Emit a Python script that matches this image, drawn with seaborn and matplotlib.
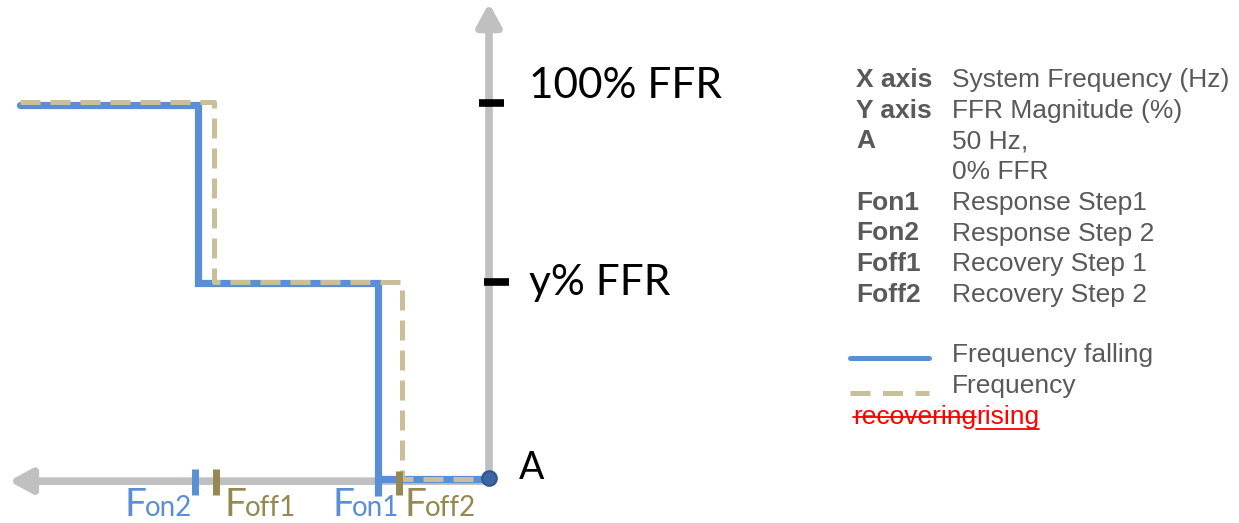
import numpy as np
import pandas as pd
import seaborn as sns
import matplotlib.pyplot as plt
from matplotlib.lines import Line2D

# Step curves (x = frequency offset from A, y = FFR %)
fall_x = [-469, -291, -291, -111, -111, 0]
fall_y = [99.4, 99.4, 52.2, 52.2, 0.3, 0.3]
rise_x = [-469, -275, -275, -87, -87, 0]
rise_y = [100.2, 100.2, 52.5, 52.5, 0.3, 0.3]

# marks on the frequency axis
freq_marks = ["Fon2", "Foff1", "Fon1", "Foff2"]
freq_pos = [-294, -273, -114, -90]
label_off = [-70, 9, -43, 6]

# marks on the FFR axis
ffr_levels = [100, 52.5]
ffr_labels = ["100% FFR", "y% FFR"]
ffr_label_shift = [4.5, -0.3]

legend_keys = ["X axis", "Y axis", "A", "", "Fon1", "Fon2", "Foff1", "Foff2"]
legend_vals = ["System Frequency (Hz)", "FFR Magnitude (%)", "50 Hz,", "0% FFR",
               "Response Step1", "Response Step 2", "Recovery Step 1", "Recovery Step 2"]

BLUE = "#5a8fd6"
TAN = "#c9bf98"
DARK_TAN = "#958852"
GRAY = "#c0c0c0"
TXT = "#595959"

W, H = 1239, 523
PX_Y = 3.77  # pixels per % FFR
Y0 = 480     # pixel row of 0 %

sns.set_theme(style="white")
plt.rcParams["font.family"] = ["Liberation Sans", "DejaVu Sans"]
CAL = ["Lato", "DejaVu Sans"]

fig = plt.figure(figsize=(W / 100, H / 100), dpi=100)
ax = fig.add_axes([0, 0, 1, 1])
ax.set_xlim(-489, W - 489)
ax.set_ylim((Y0 - H) / PX_Y, Y0 / PX_Y)
ax.axis("off")

# axes arrows
ax.annotate("", xy=(-480, -0.3), xytext=(2, -0.3), zorder=1,
            arrowprops=dict(arrowstyle="-|>,head_length=1.1,head_width=0.6",
                            color=GRAY, lw=5.5, shrinkA=0, shrinkB=0))
ax.annotate("", xy=(0, 126.5), xytext=(0, 0), zorder=1,
            arrowprops=dict(arrowstyle="-|>,head_length=1.1,head_width=0.6",
                            color=GRAY, lw=5.5, shrinkA=0, shrinkB=0))

# black ticks on FFR axis
for lev, lab, off, sh in zip(ffr_levels, ffr_labels, [0, 5], ffr_label_shift):
    ax.plot([-10 + off, 15 + off], [lev, lev], color="black", lw=5.5,
            solid_capstyle="butt", zorder=3)
    ax.text(40, lev + sh, lab, fontsize=30.5, family=CAL, color="black",
            va="center")

fall = pd.DataFrame({"x": fall_x, "y": fall_y})
rise = pd.DataFrame({"x": rise_x, "y": rise_y})
sns.lineplot(data=fall, x="x", y="y", sort=False, estimator=None, ax=ax,
             color=BLUE, lw=5.2, solid_joinstyle="miter", zorder=2)
sns.lineplot(data=rise, x="x", y="y", sort=False, estimator=None, ax=ax,
             color=TAN, lw=3.6, dashes=(4, 2), zorder=2.5)

# Fon1 blue line runs below the axis
ax.plot([fall_x[3], fall_x[3]], [0, -4.2], color=BLUE, lw=5.2,
        solid_capstyle="butt", zorder=2)

# frequency marks
mark_col = {"Fon": BLUE, "Fof": DARK_TAN}
for name, xp, lo in zip(freq_marks, freq_pos, label_off):
    c = mark_col[name[:3]]
    if name != "Fon1":
        top = 3.0 if name != "Foff2" else 2.4
        ax.plot([xp, xp], [top, -4.0], color=c, lw=5, solid_capstyle="butt",
                zorder=3)
    tx = xp + lo
    ax.text(tx, -9.5, "F", fontsize=28, color=c, family=CAL, va="baseline")
    ax.text(tx + 20, -9.5, name[1:], fontsize=20, color=c, family=CAL,
            va="baseline")

# point A
ax.scatter([0], [0.5], s=110, color="#3d66a5", zorder=5, edgecolor="#2f5590", lw=1.5)
ax.text(30, 3.3, "A", fontsize=27, family=CAL, color="black", va="center")

# legend block on the right
FS = 19
row0, step = 80, 30.7
for i, (k, v) in enumerate(zip(legend_keys, legend_vals)):
    yy = 1 - (row0 + i * step) / H
    fig.text(856 / W, yy, k, fontsize=FS, fontweight="bold", color=TXT, va="center")
    fig.text(952 / W, yy, v, fontsize=FS, color=TXT, va="center")

yy = 1 - 358 / H
fig.add_artist(Line2D([850 / W, 929 / W], [yy, yy], color=BLUE, lw=3.6))
fig.text(952 / W, 1 - 355 / H, "Frequency falling", fontsize=FS, color=TXT,
         va="center")
yy = 1 - 393 / H
fig.add_artist(Line2D([850 / W, 929 / W], [yy, yy], color=TAN, lw=3.6,
                      dashes=(4, 2.5)))
fig.text(952 / W, 1 - 386 / H, "Frequency", fontsize=FS, color=TXT, va="center")

# tracked change text
fig.canvas.draw()
r = fig.canvas.get_renderer()
y_rec = 1 - 417 / H
t1 = fig.text(853 / W, y_rec, "recovering", fontsize=FS, color="red", va="center")
bb1 = t1.get_window_extent(r)
t2 = fig.text(bb1.x1 / W, y_rec, "rising", fontsize=FS, color="red", va="center")
bb2 = t2.get_window_extent(r)
fig.add_artist(Line2D([bb1.x0 / W, bb1.x1 / W], [y_rec, y_rec], color="red", lw=1.3))
yu = 1 - 429 / H
fig.add_artist(Line2D([bb2.x0 / W, bb2.x1 / W], [yu, yu], color="red", lw=1.3))

fig.savefig("out.png", dpi=100)
